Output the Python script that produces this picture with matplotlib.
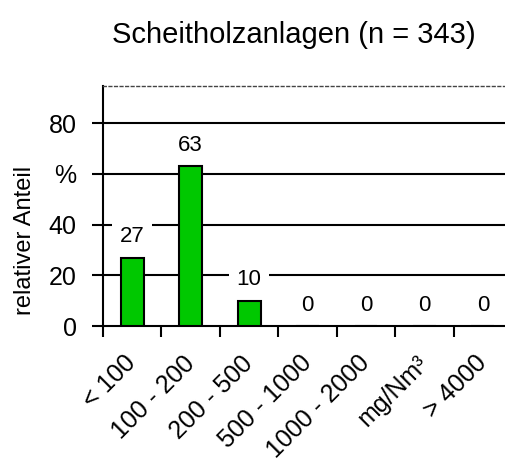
import matplotlib
matplotlib.use("Agg")
import matplotlib.pyplot as plt

plt.rcParams["font.family"] = ["Liberation Sans", "DejaVu Sans"]

# ---------- data ----------
categories = ["< 100", "100 - 200", "200 - 500", "500 - 1000",
              "1000 - 2000", "mg/Nm³", "> 4000"]
shares = [27, 63, 10, 0, 0, 0, 0]
ytick_vals = [0, 20, 40, 60, 80]
ytick_labels = ["0", "20", "40", "%", "80"]

TITLE = "Scheitholzanlagen (n = 343)"
YLABEL = "relativer Anteil"

# ---------- plot ----------
fig = plt.figure(figsize=(5.05, 4.66), dpi=100)
ax = fig.add_axes([0.204, 0.300, 0.81, 0.515])

x = list(range(len(categories)))
ax.bar(x, shares, width=0.39, color="#00c800", edgecolor="black",
       linewidth=1.5, zorder=3)

for xi, v in zip(x, shares):
    ax.annotate(f"{v}", (xi, v), xytext=(0, 15), textcoords="offset points",
                ha="center", va="center", fontsize=16, zorder=4,
                bbox=dict(boxstyle="square,pad=0.35", fc="white", ec="none"))

ax.set_xlim(-0.5, len(categories) - 0.5)
ax.set_ylim(0, 94.5)

# grid lines
for g in ytick_vals[1:]:
    ax.axhline(g, color="black", lw=1.5, zorder=1)

ax.set_yticks(ytick_vals)
ax.set_yticklabels(ytick_labels, fontsize=18)
ax.tick_params(axis="y", direction="out", length=8, width=1.5, pad=11)

# category labels at centers, ticks at boundaries
ax.set_xticks(x)
ax.set_xticklabels(categories, fontsize=18, rotation=45, ha="right",
                   va="center", rotation_mode="anchor")
ax.tick_params(axis="x", which="major", length=0, pad=24)
ax.set_xticks([i - 0.5 for i in range(len(categories) + 1)], minor=True)
ax.tick_params(axis="x", which="minor", direction="out", length=8, width=1.5)

ax.spines["right"].set_visible(False)
ax.spines["left"].set_linewidth(1.5)
ax.spines["bottom"].set_linewidth(1.5)
ax.spines["top"].set_linewidth(1)
ax.spines["top"].set_linestyle((0, (2, 2)))
ax.spines["top"].set_color("#444444")

fig.text(0.581, 0.925, TITLE, ha="center", va="center", fontsize=21)
fig.text(0.049, 0.485, YLABEL, ha="center", va="center", rotation=90,
         fontsize=17)

fig.savefig("out.png", dpi=100)
